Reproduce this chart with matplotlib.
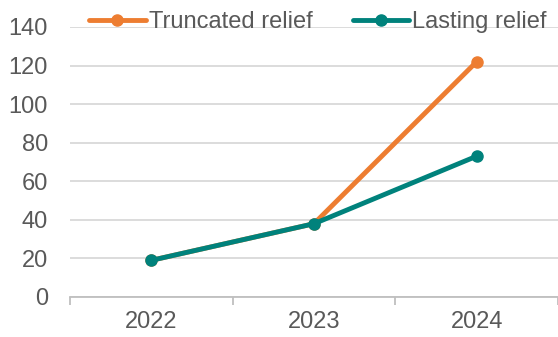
import matplotlib
matplotlib.use("Agg")
import matplotlib.pyplot as plt
import numpy as np

plt.rcParams['font.family'] = ['Liberation Sans', 'DejaVu Sans']

years = ['2022', '2023', '2024']
truncated = [19, 38, 122]
lasting = [19, 38, 73]

text_color = '#595959'
orange = '#ED7D31'
teal = '#00827C'
fs = 17

fig = plt.figure(figsize=(5.58, 3.37), dpi=100)
ax = fig.add_axes([0.1254, 0.1187, 0.8746, 0.8013])

x = np.arange(len(years))
ax.plot(x, truncated, color=orange, lw=3.5, marker='o', ms=8,
        solid_capstyle='round', label='Truncated relief', zorder=3)
ax.plot(x, lasting, color=teal, lw=3.5, marker='o', ms=8,
        solid_capstyle='round', label='Lasting relief', zorder=4)

ax.set_xlim(-0.5, 2.5)
ax.set_ylim(0, 140)
ax.set_yticks(range(0, 141, 20))
ax.set_xticks(x)
ax.set_xticklabels(years)
ax.yaxis.grid(True, color='#D9D9D9', lw=1.3)
ax.set_axisbelow(True)

for side in ['top', 'right', 'left']:
    ax.spines[side].set_visible(False)
ax.spines['bottom'].set_color('#BFBFBF')
ax.spines['bottom'].set_linewidth(1.3)

# category boundaries get the tick marks, labels sit in between
ax.set_xticks(np.arange(-0.5, 2.6, 1.0), minor=True)
ax.tick_params(axis='x', which='major', length=0, labelsize=fs,
               labelcolor=text_color, pad=10)
ax.tick_params(axis='x', which='minor', length=6, width=1.3,
               color='#BFBFBF', direction='out')
ax.tick_params(axis='y', length=0, labelsize=fs, labelcolor=text_color, pad=16)

leg = ax.legend(loc='center', bbox_to_anchor=(0.570, 0.935),
                bbox_transform=fig.transFigure, ncol=2, frameon=False,
                fontsize=fs, handlelength=2.4, handletextpad=0.13,
                columnspacing=1.7, borderaxespad=0)
for t in leg.get_texts():
    t.set_color(text_color)

fig.savefig('out.png', dpi=100)
